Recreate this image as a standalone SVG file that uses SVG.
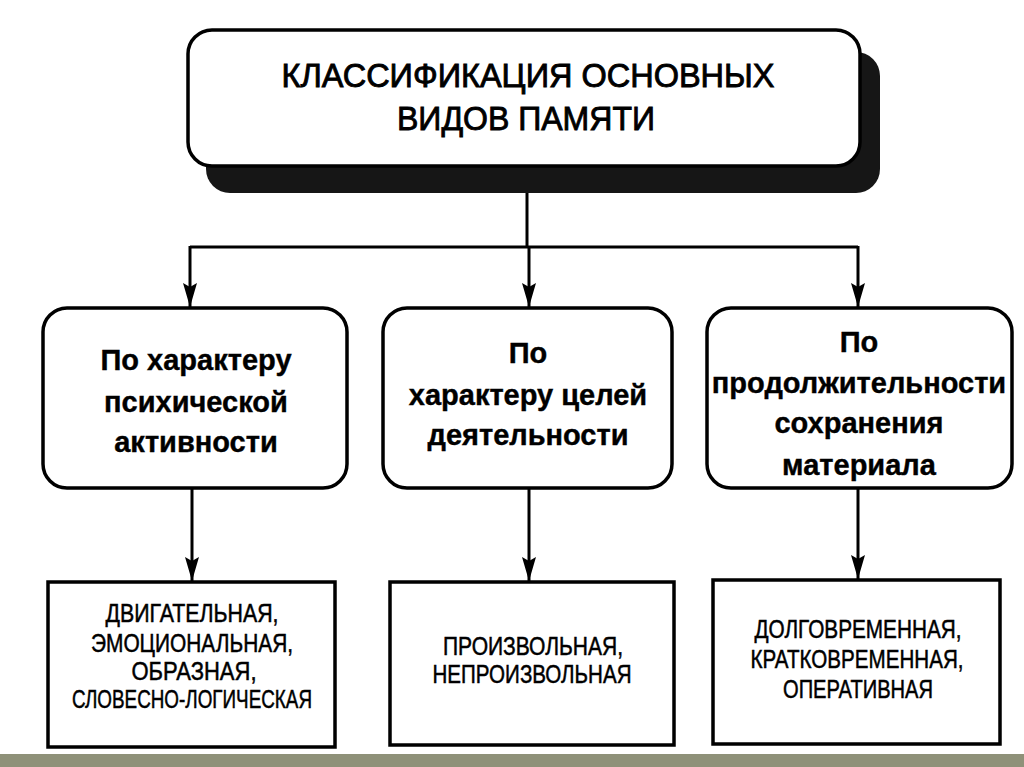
<svg xmlns="http://www.w3.org/2000/svg" width="1024" height="767" viewBox="0 0 1024 767">
<style>
.box{fill:#fff;stroke:#000;stroke-width:3.5}
.shadow{fill:#161616}
.conn{fill:none;stroke:#000;stroke-width:3}
.title{font-family:"Liberation Sans",Arial,sans-serif;font-size:34px;fill:#000;stroke:#000;stroke-width:0.9;text-anchor:middle}
.mid{font-family:"Liberation Sans",Arial,sans-serif;font-size:29px;font-weight:bold;fill:#000;stroke:#000;stroke-width:0.4;text-anchor:middle}
.low{font-family:"Liberation Sans",Arial,sans-serif;font-size:25px;fill:#000;stroke:#000;stroke-width:0.5;text-anchor:middle}
</style>
<defs>
<marker id="arr" markerUnits="userSpaceOnUse" markerWidth="24" markerHeight="16" viewBox="0 0 24 16" refX="24" refY="8" orient="auto">
<path d="M0,1 L24,8 L0,15 L4,8 Z" fill="#000"/>
</marker>
</defs>
<rect width="1024" height="767" fill="#fff"/>
<rect x="0" y="754" width="1024" height="13" fill="#8f9179"/>

<g id="connectors">
<line class="conn" x1="527" y1="166" x2="527" y2="247"/>
<line class="conn" x1="190" y1="247" x2="858" y2="247"/>
<line class="conn" x1="190" y1="246" x2="190" y2="307" marker-end="url(#arr)"/>
<line class="conn" x1="529" y1="247" x2="529" y2="307" marker-end="url(#arr)"/>
<line class="conn" x1="858" y1="246" x2="858" y2="307" marker-end="url(#arr)"/>
<line class="conn" x1="192" y1="488" x2="192" y2="581" marker-end="url(#arr)"/>
<line class="conn" x1="529" y1="488" x2="529" y2="581" marker-end="url(#arr)"/>
<line class="conn" x1="858" y1="488" x2="858" y2="579" marker-end="url(#arr)"/>
</g>

<g id="root">
<rect class="shadow" x="206" y="52" width="674" height="141" rx="24"/>
<rect class="box" x="188" y="30" width="672" height="136" rx="24"/>
<text class="title" x="528" y="87" textLength="493" lengthAdjust="spacingAndGlyphs">КЛАССИФИКАЦИЯ ОСНОВНЫХ</text>
<text class="title" x="526" y="130" textLength="258" lengthAdjust="spacingAndGlyphs">ВИДОВ ПАМЯТИ</text>
</g>

<g id="cat1">
<rect class="box" x="43" y="308" width="304" height="180" rx="24"/>
<text class="mid" x="196" y="370">По характеру</text>
<text class="mid" x="196" y="412">психической</text>
<text class="mid" x="196" y="452">активности</text>
</g>

<g id="cat2">
<rect class="box" x="383" y="308" width="289" height="180" rx="24"/>
<text class="mid" x="528" y="363">По</text>
<text class="mid" x="528" y="405">характеру целей</text>
<text class="mid" x="528" y="445">деятельности</text>
</g>

<g id="cat3">
<rect class="box" x="707" y="308" width="305" height="180" rx="24"/>
<text class="mid" x="859" y="352">По</text>
<text class="mid" x="859" y="393">продолжительности</text>
<text class="mid" x="859" y="433">сохранения</text>
<text class="mid" x="859" y="475">материала</text>
</g>

<g id="types1">
<rect class="box" x="48" y="582" width="287" height="165"/>
<text class="low" x="192" y="622" textLength="173" lengthAdjust="spacingAndGlyphs">ДВИГАТЕЛЬНАЯ,</text>
<text class="low" x="192" y="652" textLength="202" lengthAdjust="spacingAndGlyphs">ЭМОЦИОНАЛЬНАЯ,</text>
<text class="low" x="194" y="680" textLength="125" lengthAdjust="spacingAndGlyphs">ОБРАЗНАЯ,</text>
<text class="low" x="192" y="708" textLength="240" lengthAdjust="spacingAndGlyphs">СЛОВЕСНО-ЛОГИЧЕСКАЯ</text>
</g>

<g id="types2">
<rect class="box" x="390" y="582" width="284" height="163"/>
<text class="low" x="533" y="655" textLength="180" lengthAdjust="spacingAndGlyphs">ПРОИЗВОЛЬНАЯ,</text>
<text class="low" x="532" y="683" textLength="199" lengthAdjust="spacingAndGlyphs">НЕПРОИЗВОЛЬНАЯ</text>
</g>

<g id="types3">
<rect class="box" x="713" y="580" width="287" height="164"/>
<text class="low" x="858" y="638" textLength="207" lengthAdjust="spacingAndGlyphs">ДОЛГОВРЕМЕННАЯ,</text>
<text class="low" x="857" y="668" textLength="213" lengthAdjust="spacingAndGlyphs">КРАТКОВРЕМЕННАЯ,</text>
<text class="low" x="858" y="698" textLength="150" lengthAdjust="spacingAndGlyphs">ОПЕРАТИВНАЯ</text>
</g>
</svg>
